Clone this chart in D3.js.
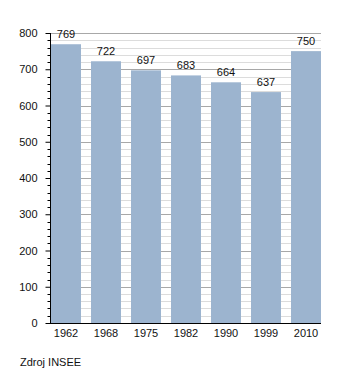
<!DOCTYPE html>
<html><head><meta charset="utf-8">
<script src="https://cdn.jsdelivr.net/npm/d3@7"></script>
<style>body{margin:0;background:#fff;} svg{display:block;font-family:"Liberation Sans",Arial,sans-serif;}</style>
</head><body>
<svg id="c" width="350" height="373"></svg>
<script>
const years = ["1962","1968","1975","1982","1990","1999","2010"];
const population = [769,722,697,683,664,637,750];
const yTicks = [0,100,200,300,400,500,600,700,800];
const source = "Zdroj INSEE";

(function(){
const svg = d3.select("#c");
const pl = 50, pr = 321, pt = 33, pb = 323;
const x = d3.scaleBand().domain(years).range([pl+1, pr]).paddingInner(0.25).paddingOuter(0);
const y = d3.scaleLinear().domain([0,800]).range([pb, pt]);

const minor = d3.range(0, 801, 20);
svg.append("g").selectAll("line").data(minor.filter(v => v % 100 !== 0)).join("line")
  .attr("x1", pl).attr("x2", pr).attr("y1", d => Math.round(y(d))+0.5).attr("y2", d => Math.round(y(d))+0.5)
  .attr("stroke", "#dcdcdc").attr("stroke-width", 1);
svg.append("g").selectAll("line").data(yTicks.filter(v => v>0)).join("line")
  .attr("x1", pl).attr("x2", pr).attr("y1", d => Math.round(y(d))+0.5).attr("y2", d => Math.round(y(d))+0.5)
  .attr("stroke", "#a8a8a8").attr("stroke-width", 1);

svg.append("g").selectAll("rect").data(years).join("rect")
  .attr("x", d => x(d)).attr("width", x.bandwidth())
  .attr("y", (d,i) => y(population[i])).attr("height", (d,i) => pb - y(population[i]))
  .attr("fill", "#9cb4cf");

svg.append("g").selectAll("text").data(years).join("text")
  .attr("x", d => x(d) + x.bandwidth()/2).attr("y", (d,i) => y(population[i]) - 6)
  .attr("text-anchor", "middle").attr("font-size", 11).attr("fill", "#111")
  .text((d,i) => population[i]);

// y axis
const ya = svg.append("g").attr("transform", `translate(${pl+0.5},0)`);
ya.call(d3.axisLeft(y).tickValues(yTicks).tickSize(5).tickPadding(8));
ya.selectAll(".tick line").attr("stroke","#000");
ya.selectAll("text").attr("font-size", 11).attr("fill","#111").attr("font-family","Liberation Sans, Arial, sans-serif");
ya.select(".domain").remove();
svg.append("g").selectAll("line").data(minor.filter(v => v % 100 !== 0)).join("line")
  .attr("x1", pl-2.5).attr("x2", pl).attr("y1", d => Math.round(y(d))+0.5).attr("y2", d => Math.round(y(d))+0.5)
  .attr("stroke", "#000");
svg.append("line").attr("x1", pl+0.5).attr("x2", pl+0.5).attr("y1", pt).attr("y2", pb+1).attr("stroke","#000");

// x axis
const xa = svg.append("g").attr("transform", `translate(0,${pb+0.5})`);
xa.call(d3.axisBottom(x).tickSize(0).tickPadding(6));
xa.select(".domain").remove();
xa.selectAll("text").attr("font-size", 11).attr("fill","#111").attr("font-family","Liberation Sans, Arial, sans-serif");
svg.append("line").attr("x1", pl).attr("x2", pr).attr("y1", pb+0.5).attr("y2", pb+0.5).attr("stroke","#000");

svg.append("text").attr("x", 20).attr("y", 366).attr("font-size", 11).attr("fill","#111").text(source);
})();
</script>
</body></html>
